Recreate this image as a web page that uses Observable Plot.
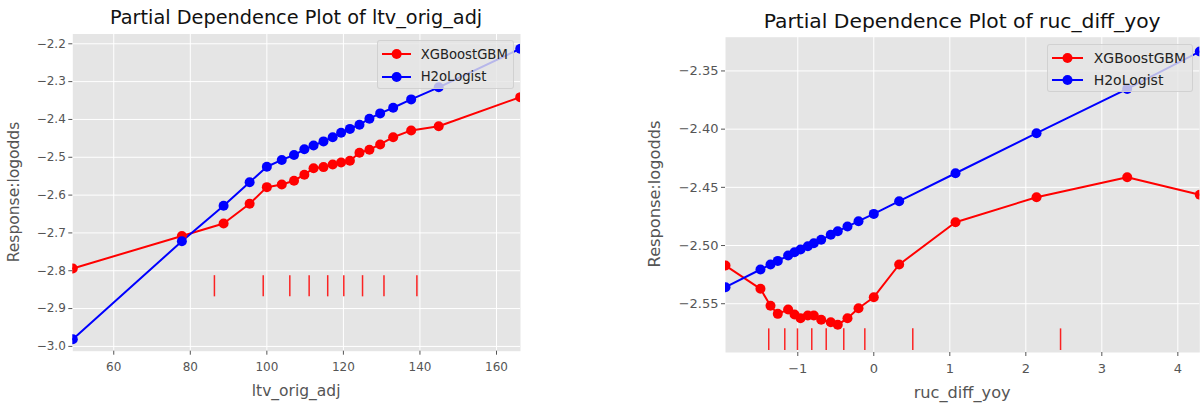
<!DOCTYPE html>
<html>
<head>
<meta charset="utf-8">
<script src="https://cdn.jsdelivr.net/npm/d3@7"></script>
<script src="https://cdn.jsdelivr.net/npm/@observablehq/plot@0.6"></script>
<style>
  html, body { margin: 0; padding: 0; background: #ffffff; }
  #root { position: relative; width: 1203px; height: 410px; font-family: "DejaVu Sans", sans-serif; overflow: hidden; }
  .panel { position: absolute; top: 0; }
  .title { position: absolute; color: #111; white-space: nowrap; transform: translateX(-50%); line-height: 1; }
  .xlab { position: absolute; color: #555; white-space: nowrap; transform: translateX(-50%); line-height: 1; }
  .ylab { position: absolute; color: #555; white-space: nowrap; transform: translate(-50%, -50%) rotate(-90deg); line-height: 1; }
  .legend { position: absolute; background: rgba(229,229,229,0.8); border: 1px solid rgba(204,204,204,0.8); border-radius: 3px; box-sizing: border-box; }
  .legrow { position: absolute; display: flex; align-items: center; color: #222; white-space: nowrap; line-height: 1; }
  .legrow svg { display: block; }
</style>
</head>
<body>
<div id="root"></div>
<script>
// ---------- data: left panel (ltv_orig_adj) ----------
const ltvX = [49.3, 77.8, 88.7, 95.5, 100.0, 103.9, 107.1, 109.8, 112.2, 114.8, 117.2, 119.4, 121.7, 124.2, 126.8, 129.6, 133.0, 137.7, 144.9, 166.2];
const ltvXGB = [-2.794, -2.708, -2.675, -2.623, -2.579, -2.572, -2.562, -2.546, -2.529, -2.526, -2.519, -2.514, -2.509, -2.488, -2.480, -2.466, -2.447, -2.429, -2.418, -2.341];
const ltvH2O = [-2.981, -2.722, -2.628, -2.566, -2.525, -2.507, -2.494, -2.479, -2.469, -2.458, -2.447, -2.435, -2.425, -2.414, -2.398, -2.384, -2.369, -2.347, -2.315, -2.213];
const ltvRug = [86.3, 99.05, 106.0, 111.05, 115.9, 120.1, 125.0, 130.6, 139.2];
const ltvRugY = [-2.869, -2.813];
const ltvXTicks = [60, 80, 100, 120, 140, 160];
const ltvYTicks = [-3.0, -2.9, -2.8, -2.7, -2.6, -2.5, -2.4, -2.3, -2.2];
const ltvXDomain = [49.3, 166.27];
const ltvYDomain = [-3.0127, -2.1741];

// ---------- data: right panel (ruc_diff_yoy) ----------
const rucX = [-1.951, -1.491, -1.359, -1.263, -1.127, -1.043, -0.964, -0.868, -0.789, -0.692, -0.566, -0.474, -0.346, -0.201, 0.0, 0.334, 1.075, 2.141, 3.334, 4.289];
const rucXGB = [-2.5172, -2.5372, -2.5518, -2.5587, -2.5550, -2.5593, -2.5624, -2.5601, -2.5601, -2.5638, -2.5659, -2.5681, -2.5624, -2.5539, -2.5444, -2.5163, -2.4800, -2.4585, -2.4413, -2.4564];
const rucH2O = [-2.5358, -2.5206, -2.5163, -2.5132, -2.5086, -2.5057, -2.5034, -2.5006, -2.4980, -2.4951, -2.4908, -2.4877, -2.4837, -2.4791, -2.4728, -2.4619, -2.4379, -2.4035, -2.3654, -2.3333];
const rucRug = [-1.382, -1.171, -1.004, -0.816, -0.626, -0.395, -0.118, 0.513, 2.457];
const rucRugY = [-2.5902, -2.5716];
const rucXTicks = [-1, 0, 1, 2, 3, 4];
const rucYTicks = [-2.55, -2.50, -2.45, -2.40, -2.35];
const rucXDomain = [-1.951, 4.289];
const rucYDomain = [-2.5919, -2.3210];

const seriesNames = ["XGBoostGBM", "H2oLogist"];
const seriesColors = ["#ff0000", "#0000ff"];

function panel(cfg) {
  const rows = [];
  cfg.x.forEach((x, i) => {
    rows.push({series: seriesNames[0], x, y: cfg.xgb[i]});
  });
  cfg.x.forEach((x, i) => {
    rows.push({series: seriesNames[1], x, y: cfg.h2o[i]});
  });
  const rug = cfg.rug.map(x => ({x, y1: cfg.rugY[0], y2: cfg.rugY[1]}));
  const fmtY = d3.format(cfg.yfmt);
  const fmtX = d3.format(cfg.xfmt);
  return Plot.plot({
    width: cfg.width,
    height: 410,
    marginLeft: cfg.ml,
    marginRight: cfg.mr,
    marginTop: cfg.mt,
    marginBottom: cfg.mb,
    style: {fontFamily: "DejaVu Sans, sans-serif", fontSize: cfg.tickFont + "px", color: "#555", background: "transparent", overflow: "visible"},
    x: {domain: cfg.xDomain},
    y: {domain: cfg.yDomain},
    color: {domain: seriesNames, range: seriesColors},
    marks: [
      Plot.frame({fill: "#e5e5e5", stroke: "none"}),
      Plot.gridX(cfg.xTicks, {stroke: "#ffffff", strokeOpacity: 1, strokeWidth: 1}),
      Plot.gridY(cfg.yTicks, {stroke: "#ffffff", strokeOpacity: 1, strokeWidth: 1}),
      Plot.axisX({ticks: cfg.xTicks, tickFormat: fmtX, tickSize: 4, tickPadding: 7, label: null, fontSize: cfg.tickFont}),
      Plot.axisY({ticks: cfg.yTicks, tickFormat: fmtY, tickSize: 4, tickPadding: 3, label: null, fontSize: cfg.tickFont}),
      Plot.ruleX(rug, {x: "x", y1: "y1", y2: "y2", stroke: "#ff0000", strokeWidth: 1.5, strokeOpacity: 0.85}),
      Plot.line(rows, {x: "x", y: "y", z: "series", stroke: "series", strokeWidth: 2, clip: true}),
      Plot.dot(rows, {x: "x", y: "y", fill: "series", r: 5, clip: true})
    ]
  });
}

const root = document.getElementById("root");

function addPanel(cfg) {
  const wrap = document.createElement("div");
  wrap.className = "panel";
  wrap.style.left = cfg.left + "px";
  wrap.style.width = cfg.width + "px";
  wrap.appendChild(panel(cfg));
  root.appendChild(wrap);

  const plotL = cfg.left + cfg.ml;
  const plotR = cfg.left + cfg.width - cfg.mr;
  const plotT = cfg.mt;
  const plotB = 410 - cfg.mb;

  const t = document.createElement("div");
  t.className = "title";
  t.textContent = cfg.title;
  t.style.fontSize = cfg.titleFont + "px";
  t.style.left = ((plotL + plotR) / 2) + "px";
  t.style.top = cfg.titleTop + "px";
  root.appendChild(t);

  const xl = document.createElement("div");
  xl.className = "xlab";
  xl.textContent = cfg.xlabel;
  xl.style.fontSize = cfg.labelFont + "px";
  xl.style.left = ((plotL + plotR) / 2) + "px";
  xl.style.top = cfg.xlabTop + "px";
  root.appendChild(xl);

  const yl = document.createElement("div");
  yl.className = "ylab";
  yl.textContent = "Response:logodds";
  yl.style.fontSize = cfg.labelFont + "px";
  yl.style.left = cfg.ylabX + "px";
  yl.style.top = ((plotT + plotB) / 2) + "px";
  root.appendChild(yl);

  const lg = document.createElement("div");
  lg.className = "legend";
  lg.style.left = cfg.leg.x + "px";
  lg.style.top = cfg.leg.y + "px";
  lg.style.width = cfg.leg.w + "px";
  lg.style.height = cfg.leg.h + "px";
  seriesNames.forEach((name, i) => {
    const row = document.createElement("div");
    row.className = "legrow";
    row.style.left = cfg.leg.padL + "px";
    row.style.top = (cfg.leg.row0 + i * cfg.leg.rowGap - 7) + "px";
    row.style.height = "14px";
    row.style.fontSize = cfg.legFont + "px";
    const ns = "http://www.w3.org/2000/svg";
    const s = document.createElementNS(ns, "svg");
    s.setAttribute("width", cfg.leg.sym);
    s.setAttribute("height", 14);
    const ln = document.createElementNS(ns, "line");
    ln.setAttribute("x1", 0); ln.setAttribute("x2", cfg.leg.sym);
    ln.setAttribute("y1", 7); ln.setAttribute("y2", 7);
    ln.setAttribute("stroke", seriesColors[i]); ln.setAttribute("stroke-width", 2);
    const c = document.createElementNS(ns, "circle");
    c.setAttribute("cx", cfg.leg.sym / 2); c.setAttribute("cy", 7); c.setAttribute("r", 5);
    c.setAttribute("fill", seriesColors[i]);
    s.appendChild(ln); s.appendChild(c);
    row.appendChild(s);
    const tx = document.createElement("span");
    tx.textContent = name;
    tx.style.marginLeft = cfg.leg.gap + "px";
    row.appendChild(tx);
    lg.appendChild(row);
  });
  root.appendChild(lg);
}

addPanel({
  left: 0, width: 540, ml: 72.3, mr: 20, mt: 33.5, mb: 59.3,
  x: ltvX, xgb: ltvXGB, h2o: ltvH2O, rug: ltvRug, rugY: ltvRugY,
  xTicks: ltvXTicks, yTicks: ltvYTicks, xDomain: ltvXDomain, yDomain: ltvYDomain,
  xfmt: "d", yfmt: ".1f", tickFont: 12,
  title: "Partial Dependence Plot of ltv_orig_adj", titleFont: 19.3, titleTop: 8,
  xlabel: "ltv_orig_adj", labelFont: 15.5, xlabTop: 384, ylabX: 15,
  legFont: 13.2,
  leg: {x: 376.7, y: 40, w: 137.3, h: 49.3, padL: 4, row0: 13.3, rowGap: 22.7, sym: 29.3, gap: 9.7}
});

addPanel({
  left: 640, width: 563, ml: 85, mr: 3.7, mt: 36.7, mb: 58,
  x: rucX, xgb: rucXGB, h2o: rucH2O, rug: rucRug, rugY: rucRugY,
  xTicks: rucXTicks, yTicks: rucYTicks, xDomain: rucXDomain, yDomain: rucYDomain,
  xfmt: "d", yfmt: ".2f", tickFont: 13,
  title: "Partial Dependence Plot of ruc_diff_yoy", titleFont: 20.3, titleTop: 11,
  xlabel: "ruc_diff_yoy", labelFont: 16.2, xlabTop: 385, ylabX: 655,
  legFont: 14,
  leg: {x: 1047.3, y: 44, w: 146, h: 48.3, padL: 3.4, row0: 12.7, rowGap: 22.6, sym: 31, gap: 11}
});
</script>
</body>
</html>
